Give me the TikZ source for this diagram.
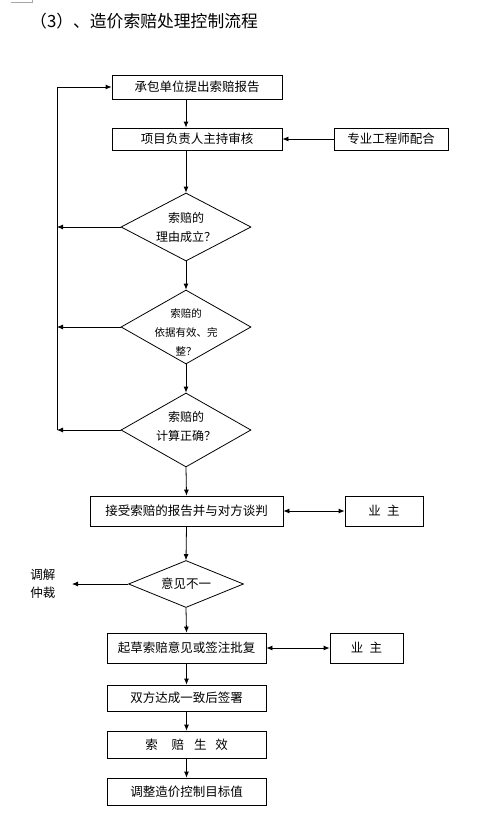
\documentclass[tikz,border=0pt]{standalone}
\usepackage{fontspec}
\setmainfont{Noto Sans CJK SC}
\usetikzlibrary{arrows.meta,shapes.geometric}
\tikzset{
  bx/.style={draw, line width=0.8pt, inner sep=0pt, align=center,
             font=\fontsize{12.5}{15}\selectfont},
  dia/.style={diamond, draw, line width=0.8pt, inner sep=0pt},
  dtxt/.style={align=center, inner sep=0pt, font=\fontsize{12}{19}\selectfont},
  lbl/.style={align=center, inner sep=0pt, font=\fontsize{12.5}{18}\selectfont},
  ar/.style={-{Latex[length=6pt,width=5pt]}, line width=0.8pt},
  dar/.style={{Latex[length=6pt,width=5pt]}-{Latex[length=6pt,width=5pt]}, line width=0.8pt},
}
\begin{document}
\begin{tikzpicture}[x=1pt,y=-1pt]
\useasboundingbox (0,0) rectangle (491,814);
\draw[gray!70, line width=0.5pt] (11,2) -- (32,2) -- (32,0);
\node[anchor=west, inner sep=0pt, font=\fontsize{16.8}{18}\selectfont] (title) at (30,21)
  {（3）、造价索赔处理控制流程};

% upper part
\node[bx, minimum width=170pt, minimum height=24pt] (rep) at (197,87) {承包单位提出索赔报告};
\node[bx, minimum width=170pt, minimum height=22pt] (chk) at (197,139) {项目负责人主持审核};
\node[bx, minimum width=114pt, minimum height=22pt] (eng) at (391,139) {专业工程师配合};

\node[dia, minimum width=130pt, minimum height=68pt] (q1) at (186,227) {};
\node[dtxt] (q1t) at (q1) {索赔的\\理由成立？};
\node[dia, minimum width=130pt, minimum height=74pt] (q2) at (186,327) {};
\node[dtxt, font=\fontsize{10.5}{19}\selectfont] (q2t) at (186,332) {索赔的\\依据有效、完\\整？};
\node[dia, minimum width=130pt, minimum height=74pt] (q3) at (186,430) {};
\node[dtxt] (q3t) at (186,426) {索赔的\\计算正确？};
\coordinate (loop) at (57,430);

% lower part
\node[bx, minimum width=193pt, minimum height=30pt] (neg) at (186.5,511) {接受索赔的报告并与对方谈判};
\node[bx, minimum width=78pt, minimum height=30pt] (own1) at (384,511) {业\enspace 主};
\node[dia, minimum width=115pt, minimum height=47pt] (q4) at (186,584) {};
\node[dtxt, font=\fontsize{12.5}{15}\selectfont] (q4t) at (q4) {意见不一};
\node[lbl] (arb) at (43,584) {调解\\仲裁};
\coordinate (arbtip) at (72,584);
\node[bx, minimum width=159pt, minimum height=30pt] (draft) at (186.5,648) {起草索赔意见或签注批复};
\node[bx, minimum width=73pt, minimum height=30pt] (own2) at (366.5,648) {业\enspace 主};
\node[bx, minimum width=159pt, minimum height=26pt] (sign) at (186.5,698) {双方达成一致后签署};
\node[bx, minimum width=159pt, minimum height=27pt] (eff) at (186.5,744.5)
  {索\hspace{1.1em}赔\hspace{0.8em}生\hspace{0.7em}效};
\node[bx, minimum width=159pt, minimum height=27pt] (adj) at (186.5,791.5) {调整造价控制目标值};

% connectors
\draw[ar] (rep.south -| q1.north) -- (chk.north -| q1.north);
\draw[ar] (eng.west) -- (chk.east);
\draw[ar] (chk.south -| q1.north) -- (q1.north);
\draw[ar] (q1.south) -- (q2.north);
\draw[ar] (q2.south) -- (q3.north);
\draw[ar] (q3.south) -- (neg.north);
\draw[ar] (q1.west) -- (q1.west -| loop);
\draw[ar] (q2.west) -- (q2.west -| loop);
\draw[ar] (q3.west) -- (loop);
\draw[ar] (loop) |- (rep.west);
\draw[dar] (neg.east) -- (own1.west);
\draw[ar] (neg.south) -- (q4.north);
\draw[ar] (q4.west) -- (arbtip);
\draw[ar] (q4.south) -- (draft.north);
\draw[dar] (draft.east) -- (own2.west);
\draw[ar] (draft) -- (sign);
\draw[ar] (sign) -- (eff);
\draw[ar] (eff) -- (adj);
\end{tikzpicture}
\end{document}
